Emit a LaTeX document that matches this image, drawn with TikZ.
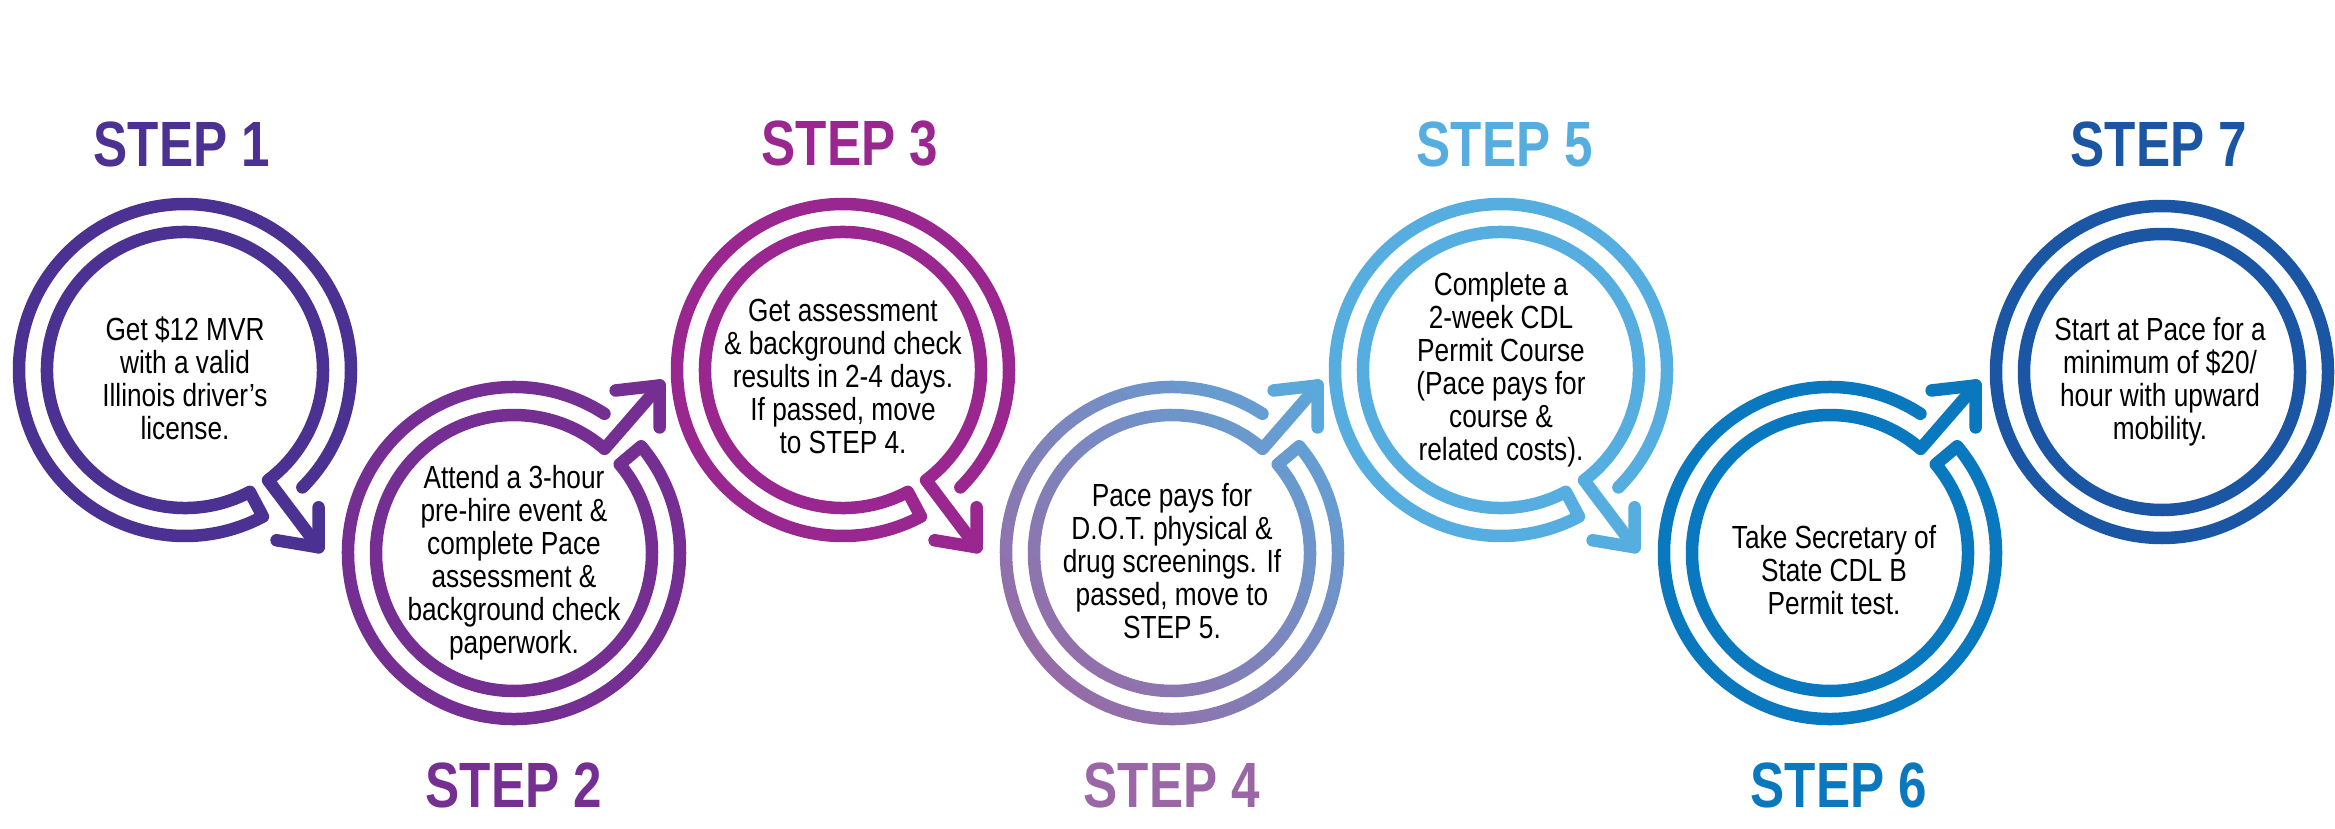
\documentclass[tikz,border=0pt]{standalone}
\usepackage{fontspec}
\setmainfont{Liberation Sans}[FakeStretch=0.82]
\newfontfamily\lblfont{Liberation Sans Bold}[FakeStretch=0.8]
\definecolor{cA}{HTML}{4B3191}
\definecolor{cB}{HTML}{752E92}
\definecolor{cC}{HTML}{9A2790}
\definecolor{cDa}{HTML}{9E639F}
\definecolor{cDb}{HTML}{5BA8DB}
\definecolor{cDl}{HTML}{9A66A6}
\definecolor{cE}{HTML}{55AEDF}
\definecolor{cF}{HTML}{0A78BE}
\definecolor{cG}{HTML}{1A56A3}
\tikzset{
  ring/.style={line width=12.5pt, line cap=round, line join=round},
  body/.style={align=center, font=\fontsize{32}{33}\selectfont, text=black, inner sep=0pt},
  lbl/.style={font=\lblfont\fontsize{64}{64}\selectfont, inner sep=0pt}
}
\newcommand\ringshape[1]{(57:166) arc[start angle=57,end angle=400,radius=166] -- (40:138) arc[start angle=40,end angle=-311,radius=138] -- (49:222) coordinate (#1)}
\begin{document}
\begin{tikzpicture}[x=1pt,y=1pt]
\useasboundingbox (0,0) rectangle (2335,-829);
% step 1 (down)
\begin{scope}[shift={(185,-370)},rotate=-102]
\draw[ring,cA] \ringshape{tA};
\end{scope}
\draw[ring,cA] (tA) -- ++(-42,7) (tA) -- ++(0,40);
% step 2 (up)
\begin{scope}[shift={(514,-553)}]
\draw[ring,cB] \ringshape{tB};
\end{scope}
\draw[ring,cB] (tB) -- ++(-44,-5) (tB) -- ++(0,-42);
% step 3 (down)
\begin{scope}[shift={(843,-370)},rotate=-102]
\draw[ring,cC] \ringshape{tC};
\end{scope}
\draw[ring,cC] (tC) -- ++(-42,7) (tC) -- ++(0,40);
% step 4 (up, gradient)
\begin{scope}[shift={(1172,-553)}]
\foreach \i in {0,...,23}{
  \pgfmathtruncatemacro\pc{100*\i/23}
  \begin{scope}
  \clip[rotate=45] (-240+20*\i,-300) rectangle ++(21,600);
  \draw[ring,color=cDb!\pc!cDa] \ringshape{tD};
  \end{scope}
}
\end{scope}
\draw[ring,cDb] (tD) -- ++(-44,-5) (tD) -- ++(0,-42);
% step 5 (down)
\begin{scope}[shift={(1501,-370)},rotate=-102]
\draw[ring,cE] \ringshape{tE};
\end{scope}
\draw[ring,cE] (tE) -- ++(-42,7) (tE) -- ++(0,40);
% step 6 (up)
\begin{scope}[shift={(1830,-553)}]
\draw[ring,cF] \ringshape{tF};
\end{scope}
\draw[ring,cF] (tF) -- ++(-44,-5) (tF) -- ++(0,-42);
% step 7
\draw[ring,cG] (2162,-372) circle[radius=166] (2162,-372) circle[radius=138];
% texts
\node[body] (x1) at (185,-378) {Get \$12 MVR\\with a valid\\Illinois driver’s\\license.};
\node[body] (x2) at (514,-563) {Attend a 3-hour\\pre-hire event \&\\complete Pace\\assessment \&\\background check\\paperwork.};
\node[body] (x3) at (843,-376) {Get assessment\\\& background check\\results in 2-4 days.\\If passed, move\\to STEP 4.};
\node[body] (x4) at (1172,-561) {Pace pays for\\D.O.T. physical \&\\drug screenings. If\\passed, move to\\STEP 5.};
\node[body] (x5) at (1501,-370) {Complete a\\2-week CDL\\Permit Course\\(Pace pays for\\course \&\\related costs).};
\node[body] (x6) at (1834,-570) {Take Secretary of\\State CDL B\\Permit test.};
\node[body] (x7) at (2160,-382) {Start at Pace for a\\minimum of \$20/\\hour with upward\\mobility.};
% labels
\node[lbl,text=cA] (l1) at (182,-144) {STEP 1};
\node[lbl,text=cB] (l2) at (514,-785) {STEP 2};
\node[lbl,text=cC] (l3) at (850,-144) {STEP 3};
\node[lbl,text=cDl] (l4) at (1172,-785) {STEP 4};
\node[lbl,text=cE] (l5) at (1505,-144) {STEP 5};
\node[lbl,text=cF] (l6) at (1839,-785) {STEP 6};
\node[lbl,text=cG] (l7) at (2159,-144) {STEP 7};
\end{tikzpicture}
\end{document}
